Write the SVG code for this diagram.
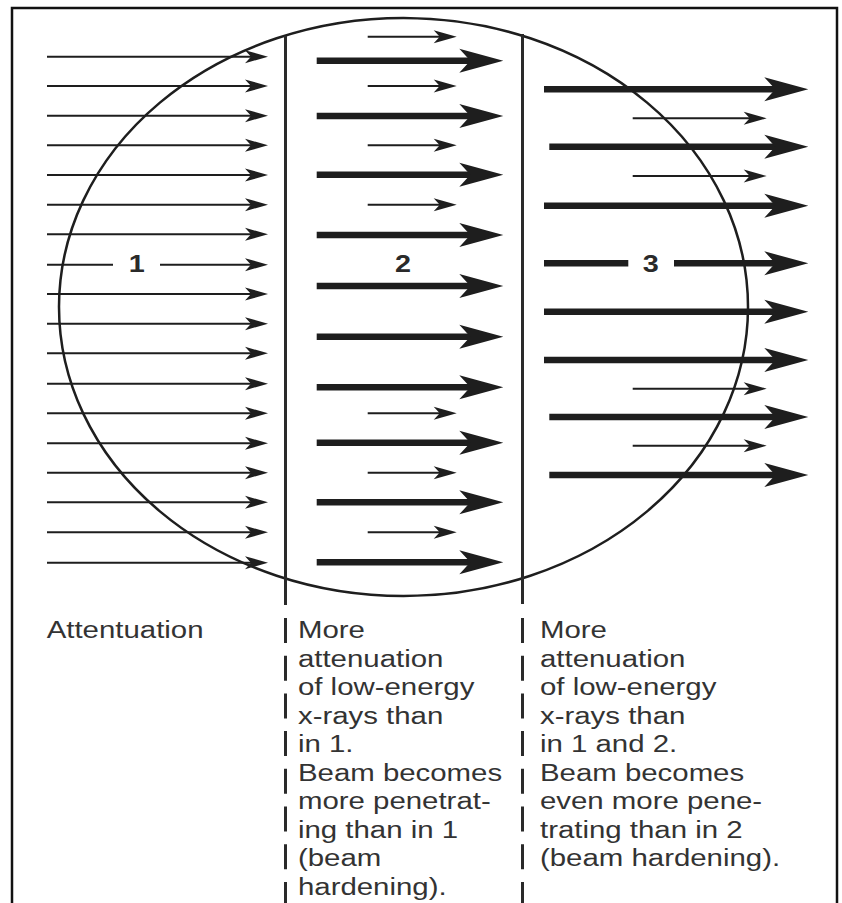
<svg xmlns="http://www.w3.org/2000/svg" width="842" height="903" viewBox="0 0 842 903">
<style>
.thin{stroke:#1e1e1e;stroke-width:2;fill:none;marker-end:url(#hThin)}
.thick{stroke:#1e1e1e;stroke-width:6.5;fill:none;marker-end:url(#hThick)}
.seg{stroke:#1e1e1e;stroke-width:2;fill:none}
.segk{stroke:#1e1e1e;stroke-width:6.5;fill:none}
.div{stroke:#2a2a2a;stroke-width:3;fill:none}
.dash{stroke:#2a2a2a;stroke-width:3;fill:none;stroke-dasharray:25 12.7}
.t{font-family:"Liberation Sans",Arial,sans-serif;font-size:24.5px;fill:#333}
.num{font-family:"Liberation Sans",Arial,sans-serif;font-size:24px;font-weight:bold;fill:#2a2a2a;text-anchor:middle}
</style>
<defs>
<marker id="hThin" markerUnits="userSpaceOnUse" viewBox="-15 -10 30 20" markerWidth="30" markerHeight="20" refX="0" refY="0" orient="auto">
<path d="M10,0 L-13,-6.5 L-7,0 L-13,6.5 Z" fill="#1e1e1e"/>
</marker>
<marker id="hThick" markerUnits="userSpaceOnUse" viewBox="-20 -15 55 30" markerWidth="55" markerHeight="30" refX="0" refY="0" orient="auto">
<path d="M30,0 L-14,-12 L-3,0 L-14,12 Z" fill="#1e1e1e"/>
</marker>
</defs>
<rect x="0" y="0" width="842" height="903" fill="#fff"/>
<g id="frame"><rect x="12" y="8" width="825" height="910" fill="none" stroke="#111" stroke-width="2.5"/></g>
<g id="object"><ellipse cx="403.5" cy="307" rx="344.5" ry="289" fill="none" stroke="#1e1e1e" stroke-width="2.5"/></g>
<g id="dividers">
<line class="div" x1="285.5" y1="36" x2="285.5" y2="605"/>
<line class="dash" x1="285.5" y1="618" x2="285.5" y2="903"/>
<line class="div" x1="522.5" y1="34" x2="522.5" y2="604"/>
<line class="dash" x1="522.5" y1="618" x2="522.5" y2="903"/>
</g>
<g id="connectors">
<g id="beam1">
<line class="thin" x1="47" y1="56.7" x2="258" y2="56.7"/>
<line class="thin" x1="47" y1="86" x2="258" y2="86"/>
<line class="thin" x1="47" y1="115.7" x2="258" y2="115.7"/>
<line class="thin" x1="47" y1="145.3" x2="258" y2="145.3"/>
<line class="thin" x1="47" y1="175" x2="258" y2="175"/>
<line class="thin" x1="47" y1="204.7" x2="258" y2="204.7"/>
<line class="thin" x1="47" y1="234.3" x2="258" y2="234.3"/>
<line class="seg" x1="47" y1="264.7" x2="113" y2="264.7"/>
<line class="thin" x1="160" y1="264.7" x2="258" y2="264.7"/>
<line class="thin" x1="47" y1="294" x2="258" y2="294"/>
<line class="thin" x1="47" y1="323.7" x2="258" y2="323.7"/>
<line class="thin" x1="47" y1="353.3" x2="258" y2="353.3"/>
<line class="thin" x1="47" y1="383.7" x2="258" y2="383.7"/>
<line class="thin" x1="47" y1="413.3" x2="258" y2="413.3"/>
<line class="thin" x1="47" y1="443.3" x2="258" y2="443.3"/>
<line class="thin" x1="47" y1="472.7" x2="258" y2="472.7"/>
<line class="thin" x1="47" y1="502.3" x2="258" y2="502.3"/>
<line class="thin" x1="47" y1="532.3" x2="258" y2="532.3"/>
<line class="thin" x1="47" y1="562.7" x2="258" y2="562.7"/>
</g>
<g id="beam2">
<line class="thin" x1="367.7" y1="36.7" x2="446.7" y2="36.7"/>
<line class="thick" x1="316.7" y1="60.7" x2="473.3" y2="60.7"/>
<line class="thin" x1="367.7" y1="86" x2="446.7" y2="86"/>
<line class="thick" x1="316.7" y1="116" x2="473.3" y2="116"/>
<line class="thin" x1="367.7" y1="145.3" x2="446.7" y2="145.3"/>
<line class="thick" x1="316.7" y1="174.7" x2="473.3" y2="174.7"/>
<line class="thin" x1="367.7" y1="204.7" x2="446.7" y2="204.7"/>
<line class="thick" x1="316.7" y1="235" x2="473.3" y2="235"/>
<line class="thick" x1="316.7" y1="286" x2="473.3" y2="286"/>
<line class="thick" x1="316.7" y1="336.7" x2="473.3" y2="336.7"/>
<line class="thick" x1="316.7" y1="387.3" x2="473.3" y2="387.3"/>
<line class="thin" x1="367.7" y1="413.3" x2="446.7" y2="413.3"/>
<line class="thick" x1="316.7" y1="442.7" x2="473.3" y2="442.7"/>
<line class="thin" x1="367.7" y1="472.7" x2="446.7" y2="472.7"/>
<line class="thick" x1="316.7" y1="502.3" x2="473.3" y2="502.3"/>
<line class="thin" x1="367.7" y1="532.3" x2="446.7" y2="532.3"/>
<line class="thick" x1="316.7" y1="562.3" x2="473.3" y2="562.3"/>
</g>
<g id="beam3">
<line class="thick" x1="544" y1="89.3" x2="778.3" y2="89.3"/>
<line class="thin" x1="632.7" y1="118.3" x2="756.7" y2="118.3"/>
<line class="thick" x1="549.3" y1="146.7" x2="778.3" y2="146.7"/>
<line class="thin" x1="632.7" y1="176" x2="756.7" y2="176"/>
<line class="thick" x1="544" y1="205.7" x2="778.3" y2="205.7"/>
<line class="segk" x1="544" y1="263.3" x2="628.3" y2="263.3"/>
<line class="thick" x1="674" y1="263.3" x2="778.3" y2="263.3"/>
<line class="thick" x1="544" y1="311.7" x2="778.3" y2="311.7"/>
<line class="thick" x1="544" y1="360" x2="778.3" y2="360"/>
<line class="thin" x1="632.7" y1="388.7" x2="756.7" y2="388.7"/>
<line class="thick" x1="549.3" y1="417" x2="778.3" y2="417"/>
<line class="thin" x1="632.7" y1="445.7" x2="756.7" y2="445.7"/>
<line class="thick" x1="549.3" y1="475" x2="778.3" y2="475"/>
</g>
</g>
<g transform="scale(1.2 1)">
<g id="label1"><text class="num" x="113.9" y="272">1</text></g>
<g id="label2"><text class="num" x="335.8" y="272">2</text></g>
<g id="label3"><text class="num" x="542.3" y="272">3</text></g>
<g id="text1"><text class="t" x="38.9" y="638.5">Attentuation</text></g>
<g id="text2">
<text class="t" x="248.3" y="638.5">More</text>
<text class="t" x="248.3" y="667">attenuation</text>
<text class="t" x="248.3" y="695.5">of low-energy</text>
<text class="t" x="248.3" y="724">x-rays than</text>
<text class="t" x="248.3" y="752.5">in 1.</text>
<text class="t" x="248.3" y="781">Beam becomes</text>
<text class="t" x="248.3" y="809.5">more penetrat-</text>
<text class="t" x="248.3" y="838">ing than in 1</text>
<text class="t" x="248.3" y="866.5">(beam</text>
<text class="t" x="248.3" y="895">hardening).</text>
</g>
<g id="text3">
<text class="t" x="450" y="638.5">More</text>
<text class="t" x="450" y="667">attenuation</text>
<text class="t" x="450" y="695.5">of low-energy</text>
<text class="t" x="450" y="724">x-rays than</text>
<text class="t" x="450" y="752.5">in 1 and 2.</text>
<text class="t" x="450" y="781">Beam becomes</text>
<text class="t" x="450" y="809.5">even more pene-</text>
<text class="t" x="450" y="838">trating than in 2</text>
<text class="t" x="450" y="866.5">(beam hardening).</text>
</g>
</g>
</svg>
